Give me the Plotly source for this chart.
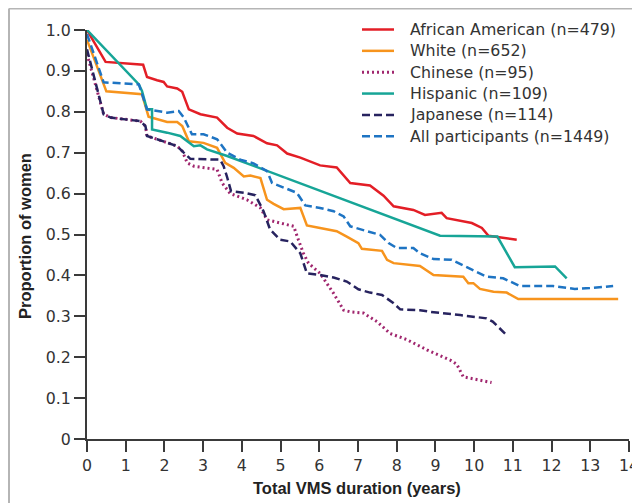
import plotly.graph_objects as go

# ---- data ----
aa_x = [0, 0.48, 1.45, 1.55, 1.81, 1.98, 2.07, 2.33, 2.46, 2.54, 2.63, 2.93, 3.36, 3.62, 3.88, 4.30, 4.65, 4.91, 5.17, 5.51, 5.85, 6.02, 6.45, 6.56, 6.80, 7.31, 7.66, 7.92, 8.43, 8.73, 9.16, 9.29, 9.94, 10.20, 10.37, 11.10]
aa_y = [1.0, 0.922, 0.915, 0.885, 0.877, 0.873, 0.862, 0.857, 0.849, 0.831, 0.806, 0.794, 0.786, 0.761, 0.747, 0.741, 0.723, 0.718, 0.698, 0.688, 0.675, 0.669, 0.664, 0.652, 0.626, 0.620, 0.595, 0.569, 0.560, 0.548, 0.553, 0.540, 0.528, 0.516, 0.497, 0.487]

wh_x = [0, 0.50, 1.42, 1.59, 2.07, 2.33, 2.46, 2.63, 3.01, 3.36, 3.57, 3.79, 4.05, 4.22, 4.48, 4.56, 4.65, 4.82, 5.08, 5.51, 5.59, 5.68, 6.02, 6.45, 6.71, 7.01, 7.10, 7.62, 7.75, 7.92, 8.60, 8.86, 8.95, 9.72, 9.85, 9.98, 10.15, 10.50, 10.84, 11.14, 13.72]
wh_y = [0.976, 0.850, 0.843, 0.788, 0.775, 0.775, 0.765, 0.728, 0.724, 0.712, 0.675, 0.663, 0.642, 0.644, 0.638, 0.610, 0.585, 0.575, 0.562, 0.565, 0.545, 0.522, 0.516, 0.508, 0.495, 0.479, 0.465, 0.460, 0.438, 0.430, 0.423, 0.405, 0.401, 0.397, 0.381, 0.381, 0.367, 0.360, 0.358, 0.342, 0.342]

ch_x = [0, 0.43, 0.61, 1.38, 1.51, 1.55, 1.81, 2.33, 2.46, 2.59, 2.76, 3.36, 3.49, 3.70, 4.13, 4.48, 4.65, 4.99, 5.34, 5.46, 5.59, 5.72, 6.02, 6.37, 6.63, 6.80, 7.14, 7.49, 7.83, 8.26, 8.78, 9.38, 9.55, 9.72, 10.45]
ch_y = [0.941, 0.794, 0.786, 0.777, 0.765, 0.741, 0.733, 0.716, 0.704, 0.675, 0.667, 0.659, 0.626, 0.600, 0.585, 0.565, 0.536, 0.528, 0.520, 0.487, 0.454, 0.430, 0.405, 0.356, 0.315, 0.311, 0.308, 0.287, 0.258, 0.243, 0.218, 0.193, 0.183, 0.152, 0.138]

hi_x = [0, 1.34, 1.42, 1.55, 1.68, 1.68, 2.07, 2.41, 2.76, 2.93, 3.10, 3.62, 9.12, 10.60, 11.05, 12.09, 12.39]
hi_y = [1.0, 0.867, 0.851, 0.806, 0.806, 0.757, 0.749, 0.741, 0.716, 0.718, 0.708, 0.692, 0.497, 0.495, 0.420, 0.422, 0.393]

jp_x = [0, 0.43, 0.61, 1.38, 1.51, 1.55, 1.81, 2.33, 2.50, 2.67, 3.44, 3.53, 3.62, 3.72, 4.05, 4.35, 4.56, 4.73, 4.99, 5.25, 5.51, 5.68, 6.02, 6.37, 6.71, 7.01, 7.31, 7.62, 7.92, 8.09, 8.60, 8.86, 9.64, 10.32, 10.48, 10.84]
jp_y = [0.953, 0.794, 0.786, 0.777, 0.765, 0.741, 0.733, 0.716, 0.700, 0.685, 0.683, 0.667, 0.640, 0.606, 0.602, 0.596, 0.557, 0.512, 0.487, 0.483, 0.454, 0.405, 0.401, 0.395, 0.385, 0.366, 0.358, 0.352, 0.332, 0.317, 0.315, 0.311, 0.303, 0.295, 0.287, 0.254]

all_x = [0, 0.43, 1.34, 1.55, 2.07, 2.37, 2.50, 2.71, 3.01, 3.36, 3.62, 3.96, 4.30, 4.65, 4.78, 5.08, 5.42, 5.64, 6.02, 6.37, 6.63, 6.80, 7.23, 7.57, 7.79, 8.00, 8.43, 8.60, 8.95, 9.42, 9.81, 10.32, 10.75, 11.18, 12.04, 12.60, 12.99, 13.59]
all_y = [0.990, 0.872, 0.867, 0.806, 0.798, 0.802, 0.786, 0.745, 0.745, 0.733, 0.700, 0.683, 0.674, 0.655, 0.626, 0.614, 0.602, 0.571, 0.565, 0.557, 0.544, 0.520, 0.508, 0.499, 0.479, 0.467, 0.467, 0.454, 0.440, 0.438, 0.420, 0.397, 0.393, 0.374, 0.374, 0.367, 0.369, 0.374]

names = ["African American (n=479)", "White (n=652)", "Chinese (n=95)",
         "Hispanic (n=109)", "Japanese (n=114)", "All participants (n=1449)"]

x_ticks = list(range(0, 15))
y_ticks = [0, 0.1, 0.2, 0.3, 0.4, 0.5, 0.6, 0.7, 0.8, 0.9, 1.0]
y_tick_text = ["0", "0.1", "0.2", "0.3", "0.4", "0.5", "0.6", "0.7", "0.8", "0.9", "1.0"]

x_title = "Total VMS duration (years)"
y_title = "Proportion of women"

series = [
    (aa_x, aa_y, "#e31e26", "solid", 2.5),
    (wh_x, wh_y, "#f7941d", "solid", 2.5),
    (ch_x, ch_y, "#a0266e", "2px,3px", 3),
    (hi_x, hi_y, "#17a597", "solid", 2.5),
    (jp_x, jp_y, "#27235f", "8px,4px", 2.5),
    (all_x, all_y, "#1e74c3", "8px,4px", 2.5),
]

# ---- layout geometry (page pixels; the page body adds an 8px offset) ----
OFF = 8
W, H = 640 - OFF, 503 - OFF
ML, MT = 87 - OFF, 30 - OFF
MR = W - (629 - OFF)
MB = H - (439 - OFF)
PW, PH = W - ML - MR, H - MT - MB


def px_x(p):
    return (p - OFF - ML) / PW


def px_y(p):
    return (H - MB - (p - OFF)) / PH


fig = go.Figure()
for (xs, ys, col, dash, w), nm in zip(series, names):
    fig.add_trace(go.Scatter(x=xs, y=ys, mode="lines", name=nm, cliponaxis=False,
                             showlegend=False,
                             line=dict(color=col, width=w, dash=dash)))

FONT = "DejaVu Sans, Verdana, sans-serif"
TFONT = "Liberation Sans, Arial, sans-serif"
axis_common = dict(showline=True, linecolor="#3a3a3a", linewidth=2, ticks="outside",
                   ticklen=11, tickwidth=1.5, tickcolor="#3a3a3a", showgrid=False,
                   zeroline=False, automargin=False,
                   tickfont=dict(family=FONT, size=15.8, color="#333333"))

shapes = [
    dict(type="line", xref="paper", yref="paper", x0=px_x(9), x1=px_x(9), y0=px_y(8.5), y1=px_y(505),
         line=dict(color="#b5b5b5", width=2)),
    dict(type="line", xref="paper", yref="paper", x0=px_x(9), x1=px_x(642), y0=px_y(8.5), y1=px_y(8.5),
         line=dict(color="#b5b5b5", width=2)),
]
annotations = [
    dict(text="<b>%s</b>" % x_title, xref="paper", yref="paper", x=px_x(357), y=px_y(488),
         xanchor="center", yanchor="middle", showarrow=False,
         font=dict(family=TFONT, size=16.5, color="#222222")),
    dict(text="<b>%s</b>" % y_title, xref="paper", yref="paper", x=px_x(25), y=px_y(236),
         xanchor="center", yanchor="middle", showarrow=False, textangle=-90,
         font=dict(family=TFONT, size=16.5, color="#222222")),
]

# custom legend (sample line + label for each series)
for i, ((xs, ys, col, dash, w), nm) in enumerate(zip(series, names)):
    cy = 29.5 + 21.35 * i
    shapes.append(dict(type="line", xref="paper", yref="paper",
                       x0=px_x(362), x1=px_x(394), y0=px_y(cy), y1=px_y(cy),
                       line=dict(color=col, width=w, dash=dash)))
    annotations.append(dict(text=nm, xref="paper", yref="paper", x=px_x(408), y=px_y(cy),
                            xanchor="left", yanchor="middle", showarrow=False,
                            font=dict(family=FONT, size=15.8, color="#333333")))

fig.update_layout(
    width=W, height=H,
    margin=dict(l=ML, r=MR, t=MT, b=MB),
    paper_bgcolor="white", plot_bgcolor="white",
    font=dict(family=FONT, color="#333333"),
    showlegend=False,
    xaxis=dict(range=[0, 14], tickvals=x_ticks, **axis_common),
    yaxis=dict(range=[0, 1.0], tickvals=y_ticks, ticktext=y_tick_text, **axis_common),
    shapes=shapes,
    annotations=annotations,
)

fig.write_html("out.html")
